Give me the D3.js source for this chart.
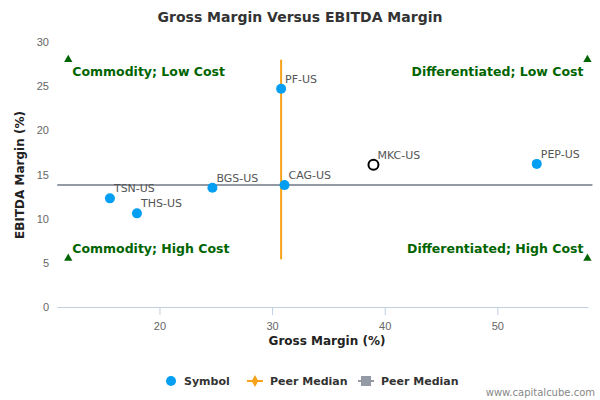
<!DOCTYPE html>
<html><head><meta charset="utf-8">
<script src="https://cdn.jsdelivr.net/npm/d3@7"></script>
<style>body{margin:0;background:#fff;font-family:"DejaVu Sans",sans-serif}</style>
</head><body><svg id="c" width="600" height="400"></svg>
<script>
const symbols = ['PF-US','CAG-US','MKC-US','PEP-US','BGS-US','TSN-US','THS-US'];
const grossMargin = [30.8, 31.1, 39.0, 53.5, 24.7, 15.6, 18.0];
const ebitdaMargin = [24.7, 13.8, 16.1, 16.2, 13.5, 12.3, 10.6];
const highlight = 'MKC-US';
const medianGross = 30.8;
const medianEbitda = 13.8;
const medianRangeX = [11.9, 58.0];
const medianRangeY = [5.4, 28.0];
const xTicks = [20, 30, 40, 50];
const yTicks = [0, 5, 10, 15, 20, 25, 30];
const quadrants = [
  {label:'Commodity; Low Cost', gx:11.9, ey:28.0, anchor:'start'},
  {label:'Differentiated; Low Cost', gx:58.0, ey:28.0, anchor:'end'},
  {label:'Commodity; High Cost', gx:11.9, ey:5.5, anchor:'start'},
  {label:'Differentiated; High Cost', gx:58.0, ey:5.5, anchor:'end'}
];

const padLeft = 57, padRight = 588, padTop = 42, padBottom = 307;
const svg = d3.select('#c');
const x = d3.scaleLinear().domain([10.9, 58.05]).range([padLeft, padRight]);
const y = d3.scaleLinear().domain([0, 30]).range([padBottom, padTop]);

svg.append('text').attr('x', 300).attr('y', 22).attr('text-anchor','middle')
  .style('font-size','14px').style('font-weight','bold').attr('fill','#333')
  .text('Gross Margin Versus EBITDA Margin');

// x axis
const xa = svg.append('g').attr('transform', `translate(0,${padBottom})`)
  .call(d3.axisBottom(x).tickValues(xTicks).tickSize(8).tickSizeOuter(0));
xa.select('.domain').attr('stroke','#c0d0e0');
xa.selectAll('.tick line').attr('stroke','#c0d0e0');
xa.selectAll('text').attr('fill','#666').style('font-size','11px').attr('dy','1.1em');

// y axis
const ya = svg.append('g').attr('transform', `translate(${padLeft},0)`)
  .call(d3.axisLeft(y).tickValues(yTicks).tickSize(0));
ya.select('.domain').remove();
ya.selectAll('text').attr('fill','#666').style('font-size','11px').attr('x', -8);

svg.append('text').attr('x', 327).attr('y', 345).attr('text-anchor','middle')
  .style('font-size','12px').style('font-weight','bold').attr('fill','#222').text('Gross Margin (%)');
svg.append('text').attr('transform','translate(24,175) rotate(-90)').attr('text-anchor','middle')
  .style('font-size','12px').style('font-weight','bold').attr('fill','#222').text('EBITDA Margin (%)');

// median lines
svg.append('line').attr('x1', x(medianRangeX[0]) - 11).attr('x2', x(medianRangeX[1]) + 5)
  .attr('y1', y(medianEbitda)).attr('y2', y(medianEbitda)).attr('stroke','#9399a5').attr('stroke-width',2);
svg.append('line').attr('x1', x(medianGross)).attr('x2', x(medianGross))
  .attr('y1', y(medianRangeY[0])).attr('y2', y(medianRangeY[1])).attr('stroke','#f7a21b').attr('stroke-width',2);

// quadrant labels
quadrants.forEach(q => {
  const px = x(q.gx), py = y(q.ey);
  svg.append('path').attr('d', d3.symbol(d3.symbolTriangle, 30)()).attr('transform', `translate(${px},${py})`).attr('fill','#006400');
  svg.append('text').attr('x', q.anchor === 'start' ? px + 4 : px - 4)
    .attr('y', q.ey > 20 ? py + 16 : py - 5).attr('text-anchor', q.anchor)
    .style('font-size','12.5px').style('font-weight','bold').attr('fill','#006400').text(q.label);
});

// points
symbols.forEach((s, i) => {
  const px = x(grossMargin[i]), py = y(ebitdaMargin[i]);
  if (s === highlight) {
    svg.append('circle').attr('cx',px).attr('cy',py).attr('r',5).attr('fill','#fff').attr('stroke','#000').attr('stroke-width',2);
  } else {
    svg.append('circle').attr('cx',px).attr('cy',py).attr('r',5).attr('fill','#049ff2');
  }
  svg.append('text').attr('x', px + 4).attr('y', py - 6).style('font-size','11px').attr('fill','#555').text(s);
});

// legend
const lg = svg.append('g').attr('transform','translate(0,381)');
lg.append('circle').attr('cx',171).attr('cy',0).attr('r',5).attr('fill','#049ff2');
lg.append('text').attr('x',184).attr('y',4).text('Symbol');
lg.append('line').attr('x1',247).attr('x2',263).attr('y1',0).attr('y2',0).attr('stroke','#f7a21b').attr('stroke-width',2);
lg.append('path').attr('d', d3.symbol(d3.symbolDiamond, 40)()).attr('transform','translate(255,0)').attr('fill','#f7a21b');
lg.append('text').attr('x',270).attr('y',4).text('Peer Median');
lg.append('line').attr('x1',358).attr('x2',374).attr('y1',0).attr('y2',0).attr('stroke','#9399a5').attr('stroke-width',2);
lg.append('rect').attr('x',361).attr('y',-5).attr('width',10).attr('height',10).attr('fill','#9399a5');
lg.append('text').attr('x',381).attr('y',4).text('Peer Median');
lg.selectAll('text').style('font-size','11px').style('font-weight','bold').attr('fill','#333');

svg.append('text').attr('x',595).attr('y',396).attr('text-anchor','end').style('font-size','10px').attr('fill','#888').text('www.capitalcube.com');
</script></body></html>
